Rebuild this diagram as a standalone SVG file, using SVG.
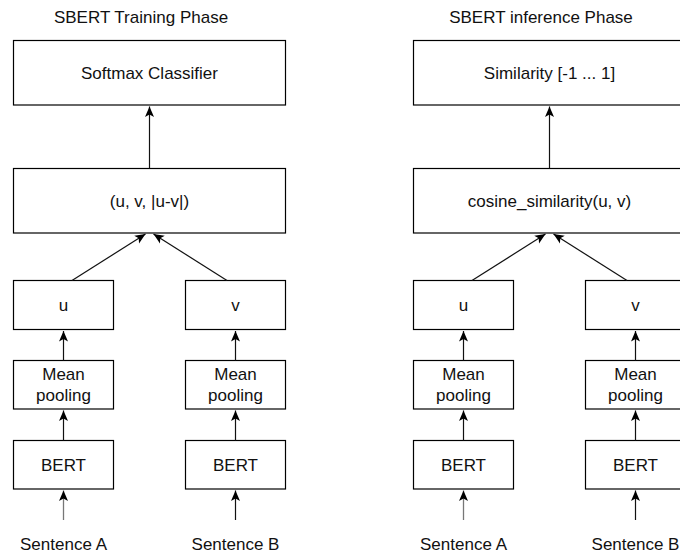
<svg xmlns="http://www.w3.org/2000/svg" width="680" height="554" viewBox="0 0 680 554">
  <style>
    .box { fill: #ffffff; stroke: #000000; stroke-width: 1.2; }
    .lbl { font-family: "Liberation Sans", Arial, Helvetica, sans-serif; font-size: 17px; fill: #111111; text-anchor: middle; }
    .edge { fill: none; stroke: #111111; stroke-width: 1.2; marker-end: url(#arrow); }
    .edge-in { fill: none; stroke: #777777; stroke-width: 1.3; marker-end: url(#arrow); }
  </style>
  <defs>
    <!-- classic notched arrowhead, tip at the path end -->
    <marker id="arrow" markerUnits="userSpaceOnUse" markerWidth="13" markerHeight="12" viewBox="-12 -6 13 12" refX="0" refY="0" orient="auto">
      <path d="M0,0 L-10.5,-4.5 L-8,0 L-10.5,4.5 Z" fill="#000000"/>
    </marker>
  </defs>

  <rect width="680" height="554" fill="#ffffff"/>

  <!-- ===== Training phase ===== -->
  <text class="lbl" x="141" y="23">SBERT Training Phase</text>

  <g id="train-softmax">
    <rect class="box" x="13.5" y="40.5" width="272" height="64.5"/>
    <text class="lbl" x="149.5" y="78.5">Softmax Classifier</text>
  </g>
  <g id="train-concat">
    <rect class="box" x="13.5" y="168.5" width="272" height="64.5"/>
    <text class="lbl" x="149.5" y="206.5">(u, v, |u-v|)</text>
  </g>
  <g id="train-u">
    <rect class="box" x="13.5" y="280.5" width="100" height="49"/>
    <text class="lbl" x="63.5" y="310.5">u</text>
  </g>
  <g id="train-v">
    <rect class="box" x="185.5" y="280.5" width="100" height="49"/>
    <text class="lbl" x="235.5" y="310.5">v</text>
  </g>
  <g id="train-pool-a">
    <rect class="box" x="13.5" y="360.5" width="100" height="48.5"/>
    <text class="lbl" x="63.5" y="380">Mean</text>
    <text class="lbl" x="63.5" y="400.5">pooling</text>
  </g>
  <g id="train-pool-b">
    <rect class="box" x="185.5" y="360.5" width="100" height="48.5"/>
    <text class="lbl" x="235.5" y="380">Mean</text>
    <text class="lbl" x="235.5" y="400.5">pooling</text>
  </g>
  <g id="train-bert-a">
    <rect class="box" x="13.5" y="440.5" width="100" height="48.5"/>
    <text class="lbl" x="63.5" y="470.5">BERT</text>
  </g>
  <g id="train-bert-b">
    <rect class="box" x="185.5" y="440.5" width="100" height="48.5"/>
    <text class="lbl" x="235.5" y="470.5">BERT</text>
  </g>
  <g id="train-sent-a">
    <text class="lbl" x="63.5" y="549.5">Sentence A</text>
  </g>
  <g id="train-sent-b">
    <text class="lbl" x="235.5" y="549.5">Sentence B</text>
  </g>

  <!-- ===== Inference phase ===== -->
  <text class="lbl" x="541" y="23">SBERT inference Phase</text>

  <g id="inf-similarity">
    <rect class="box" x="413.5" y="40.5" width="272" height="64.5"/>
    <text class="lbl" x="549.5" y="78.5">Similarity [-1 ... 1]</text>
  </g>
  <g id="inf-cosine">
    <rect class="box" x="413.5" y="168.5" width="272" height="64.5"/>
    <text class="lbl" x="549.5" y="206.5">cosine_similarity(u, v)</text>
  </g>
  <g id="inf-u">
    <rect class="box" x="413.5" y="280.5" width="100" height="49"/>
    <text class="lbl" x="463.5" y="310.5">u</text>
  </g>
  <g id="inf-v">
    <rect class="box" x="585.5" y="280.5" width="100" height="49"/>
    <text class="lbl" x="635.5" y="310.5">v</text>
  </g>
  <g id="inf-pool-a">
    <rect class="box" x="413.5" y="360.5" width="100" height="48.5"/>
    <text class="lbl" x="463.5" y="380">Mean</text>
    <text class="lbl" x="463.5" y="400.5">pooling</text>
  </g>
  <g id="inf-pool-b">
    <rect class="box" x="585.5" y="360.5" width="100" height="48.5"/>
    <text class="lbl" x="635.5" y="380">Mean</text>
    <text class="lbl" x="635.5" y="400.5">pooling</text>
  </g>
  <g id="inf-bert-a">
    <rect class="box" x="413.5" y="440.5" width="100" height="48.5"/>
    <text class="lbl" x="463.5" y="470.5">BERT</text>
  </g>
  <g id="inf-bert-b">
    <rect class="box" x="585.5" y="440.5" width="100" height="48.5"/>
    <text class="lbl" x="635.5" y="470.5">BERT</text>
  </g>
  <g id="inf-sent-a">
    <text class="lbl" x="463.5" y="549.5">Sentence A</text>
  </g>
  <g id="inf-sent-b">
    <text class="lbl" x="635.5" y="549.5">Sentence B</text>
  </g>

  <!-- ===== Connectors ===== -->
  <g id="connectors">
    <!-- training -->
    <line class="edge" x1="149.5" y1="168.5" x2="149.5" y2="106.5"/>
    <line class="edge" x1="72" y1="280.5" x2="145.5" y2="234"/>
    <line class="edge" x1="227" y1="280.5" x2="153.5" y2="234"/>
    <line class="edge" x1="63.5" y1="360.5" x2="63.5" y2="331"/>
    <line class="edge" x1="235.5" y1="360.5" x2="235.5" y2="331"/>
    <line class="edge" x1="63.5" y1="440.5" x2="63.5" y2="410.5"/>
    <line class="edge" x1="235.5" y1="440.5" x2="235.5" y2="410.5"/>
    <line class="edge-in" x1="63.5" y1="520" x2="63.5" y2="490.5"/>
    <line class="edge" x1="235.5" y1="520" x2="235.5" y2="490.5"/>
    <!-- inference -->
    <line class="edge" x1="549.5" y1="168.5" x2="549.5" y2="106.5"/>
    <line class="edge" x1="472" y1="280.5" x2="545.5" y2="234"/>
    <line class="edge" x1="627" y1="280.5" x2="553.5" y2="234"/>
    <line class="edge" x1="463.5" y1="360.5" x2="463.5" y2="331"/>
    <line class="edge" x1="635.5" y1="360.5" x2="635.5" y2="331"/>
    <line class="edge" x1="463.5" y1="440.5" x2="463.5" y2="410.5"/>
    <line class="edge" x1="635.5" y1="440.5" x2="635.5" y2="410.5"/>
    <line class="edge-in" x1="463.5" y1="520" x2="463.5" y2="490.5"/>
    <line class="edge" x1="635.5" y1="520" x2="635.5" y2="490.5"/>
  </g>
</svg>
